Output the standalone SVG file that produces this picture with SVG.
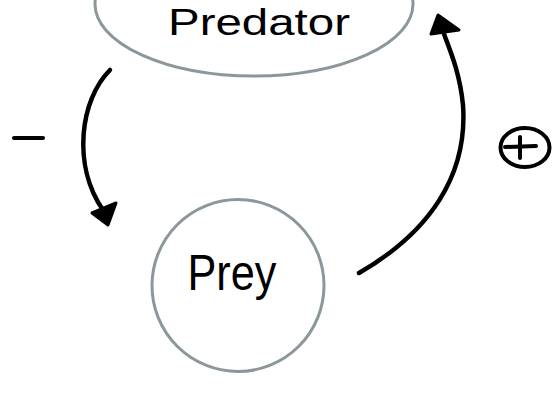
<svg xmlns="http://www.w3.org/2000/svg" width="555" height="400" viewBox="0 0 555 400">
  <style>
    .node { fill: #ffffff; stroke: #8c979c; stroke-width: 3; }
    .label { font-family: "Liberation Sans", "DejaVu Sans", sans-serif; fill: #000000; }
    .conn { fill: none; stroke: #000000; stroke-width: 4.5; stroke-linecap: round; stroke-linejoin: round; }
    .head { fill: #000000; stroke: #000000; stroke-width: 3; stroke-linejoin: round; }
    .sign { fill: none; stroke: #000000; stroke-width: 4; stroke-linecap: round; }
  </style>
  <rect width="555" height="400" fill="#ffffff"/>
  <g id="predator">
    <ellipse class="node" cx="254" cy="4" rx="159" ry="72"/>
    <text class="label" x="259" y="35" font-size="37" text-anchor="middle" textLength="182" lengthAdjust="spacingAndGlyphs">Predator</text>
  </g>
  <g id="prey">
    <circle class="node" cx="238" cy="285.5" r="86"/>
    <text class="label" x="232" y="290" font-size="50" text-anchor="middle" textLength="89" lengthAdjust="spacingAndGlyphs">Prey</text>
  </g>
  <g id="connectors">
    <path class="conn" d="M110,70 C 80,100 72,165 103,210"/>
    <polygon class="head" points="92,213 116,203 108,225"/>
    <path class="conn" d="M359,273 C 430,232 468,175 463,105 C 460,75 452,55 444,34"/>
    <polygon class="head" points="438,15 431,34 459,30"/>
  </g>
  <g id="minus-sign">
    <line class="sign" x1="14" y1="138" x2="43" y2="138"/>
  </g>
  <g id="plus-sign">
    <ellipse class="sign" cx="525" cy="147.5" rx="24.5" ry="19.5" stroke-width="3.5"/>
    <line class="sign" x1="505" y1="147" x2="536" y2="146" stroke-width="3.5"/>
    <line class="sign" x1="520" y1="137" x2="520" y2="158" stroke-width="3.5"/>
  </g>
</svg>
